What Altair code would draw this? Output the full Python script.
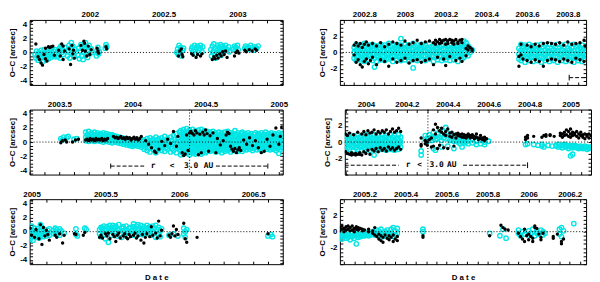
import math
import altair as alt
import pandas as pd

CYAN = "#00e5e5"

# ---------------- data: (date, O-C values ...) ----------------
L1_BLACK = [
    (2001.635, 1.2), (2001.65, -0.6), (2001.66, -1.0), (2001.67, -1.5), (2001.68, -1.8),
    (2001.69, -0.3), (2001.70, 0.6, -0.9), (2001.71, -1.2), (2001.72, 0.8), (2001.73, 0.7),
    (2001.74, 0.8), (2001.75, 0.9), (2001.76, -0.4),
    (2001.79, 0.3), (2001.80, -0.5), (2001.81, 1.2), (2001.82, 0.9, -1.0), (2001.83, 0.2),
    (2001.86, 0.5), (2001.87, -1.7), (2001.88, 1.0), (2001.885, -0.2), (2001.89, 0.3), (2001.895, -0.8),
    (2001.94, 1.0), (2001.95, 0.3), (2001.96, 1.6), (2001.965, 1.3), (2001.97, 0.2), (2001.98, -0.5),
    (2001.99, 0.9), (2002.00, -0.3), (2002.01, 0.4),
    (2002.05, 0.6), (2002.055, 0.2), (2002.06, -0.1), (2002.11, 0.8), (2002.115, 0.5),
    (2002.60, -0.5), (2002.61, 0.2), (2002.62, 0.5), (2002.625, -0.3), (2002.63, -0.6),
    (2002.69, -0.2), (2002.70, -0.4), (2002.72, -0.7), (2002.73, -0.3), (2002.75, -0.5), (2002.76, -0.2),
    (2002.83, -1.0), (2002.84, -0.6), (2002.85, -0.9), (2002.86, -0.4), (2002.87, -0.8), (2002.88, -0.2),
    (2002.89, -0.5), (2002.90, 0.1), (2002.91, -0.3), (2002.92, 0.2), (2002.93, -0.7),
    (2002.98, -0.5), (2002.99, 0.0), (2003.00, 0.2), (2003.01, -0.1),
    (2003.05, 0.3), (2003.06, 0.1), (2003.08, 0.4), (2003.10, 0.2), (2003.12, 0.5), (2003.13, 0.3),
]
L1_CYAN = [
    (2001.63, -0.3), (2001.635, -0.8), (2001.64, 0.2), (2001.645, -0.5), (2001.65, -1.1), (2001.655, 0.0),
    (2001.66, -0.4), (2001.665, -0.9), (2001.67, 0.3), (2001.675, -0.6), (2001.68, -0.2), (2001.685, -1.2),
    (2001.69, 0.4), (2001.695, -0.7), (2001.70, -0.1), (2001.705, -1.0), (2001.71, 0.1), (2001.715, -0.5),
    (2001.72, -0.9), (2001.725, 0.3), (2001.73, -0.3), (2001.735, -0.7), (2001.74, 0.5), (2001.745, 0.0),
    (2001.75, -0.4), (2001.755, 0.2), (2001.76, -0.6), (2001.765, 0.4),
    (2001.78, -0.6), (2001.785, 0.2), (2001.79, -0.2), (2001.795, 0.6), (2001.80, -0.8), (2001.805, 0.9),
    (2001.81, 0.0), (2001.815, 0.4), (2001.82, -0.3), (2001.83, 0.7),
    (2001.85, -0.5), (2001.855, 0.3), (2001.86, 1.0), (2001.865, -0.8), (2001.87, 0.6), (2001.875, 1.4),
    (2001.88, -0.2), (2001.885, 0.9), (2001.89, 0.1), (2001.895, -0.6), (2001.90, 0.4),
    (2001.92, -0.4), (2001.925, 0.6), (2001.93, -0.9), (2001.935, 0.2), (2001.94, 1.1), (2001.945, -0.5),
    (2001.95, 0.8), (2001.955, -1.0), (2001.96, 0.0), (2001.965, 0.5), (2001.97, 1.4), (2001.975, -0.3),
    (2001.98, 0.7), (2001.985, -0.7), (2001.99, 0.3), (2001.995, 1.0), (2002.00, -0.2), (2002.01, 0.5),
    (2002.015, 0.0),
    (2002.045, -0.5), (2002.05, 0.3), (2002.055, 0.7), (2002.06, -0.2), (2002.065, 0.1),
    (2002.105, 0.6), (2002.11, 1.1), (2002.115, 0.8),
    (2002.59, 0.0), (2002.595, 0.5), (2002.60, -0.3), (2002.605, 1.0), (2002.61, 0.2), (2002.615, 0.7),
    (2002.62, -0.5), (2002.63, 0.3), (2002.635, 0.6),
    (2002.69, 0.5), (2002.695, 0.8), (2002.70, 0.2), (2002.71, 1.0), (2002.715, 0.4), (2002.72, -0.2),
    (2002.725, 0.7), (2002.73, 0.9), (2002.74, 0.3), (2002.745, 0.6), (2002.75, 1.0), (2002.76, 0.1),
    (2002.765, 0.8),
    (2002.82, 0.4), (2002.825, -0.5), (2002.83, 0.9), (2002.835, 0.1), (2002.84, 1.2), (2002.845, -0.3),
    (2002.85, 0.6), (2002.855, -0.8), (2002.86, 0.3), (2002.865, 1.0), (2002.87, -0.1), (2002.875, 0.7),
    (2002.88, 0.2), (2002.885, 1.1), (2002.89, -0.4), (2002.895, 0.5), (2002.90, 0.9), (2002.905, 0.0),
    (2002.91, 0.6), (2002.915, 0.3), (2002.92, 1.0), (2002.93, 0.4), (2002.94, 0.8), (2002.945, 0.1),
    (2002.975, 0.5), (2002.98, 0.9), (2002.985, 0.3), (2002.99, 0.7), (2003.00, 1.0), (2003.005, 0.4),
    (2003.05, 0.6), (2003.055, 0.9), (2003.06, 0.4), (2003.07, 0.8), (2003.08, 0.5), (2003.09, 1.0),
    (2003.10, 0.7), (2003.11, 0.3), (2003.12, 0.8), (2003.13, 0.6), (2003.14, 0.9),
]

L2_BLACK = [
    (2003.51, -0.1), (2003.52, 0.2), (2003.54, 0.3), (2003.55, 0.0), (2003.59, 0.0), (2003.61, 0.3), (2003.63, 0.4),
    (2003.68, 0.3), (2003.69, 0.4), (2003.70, 0.2), (2003.71, 0.5), (2003.72, 0.3), (2003.73, 0.4),
    (2003.74, 0.2), (2003.75, 0.5), (2003.76, 0.3), (2003.77, 0.4), (2003.78, 0.3), (2003.79, 0.5),
    (2003.80, 0.2), (2003.81, 0.4), (2003.82, 0.3), (2003.83, 0.5),
    (2003.87, 0.8), (2003.88, 0.6), (2003.89, 0.7), (2003.90, 0.5), (2003.91, 0.6), (2003.92, 0.8),
    (2003.93, 0.5), (2003.94, 0.6), (2003.95, 0.4), (2003.96, 0.7), (2003.97, 0.5), (2003.98, 0.6),
    (2003.99, 0.3), (2004.00, 0.5), (2004.01, 0.7), (2004.02, 0.4), (2004.03, 0.6), (2004.04, 0.3),
    (2004.05, 0.5), (2004.06, 0.8),
    (2004.09, 0.2), (2004.11, -0.3), (2004.13, -0.8), (2004.15, -1.3), (2004.16, -1.5), (2004.18, -1.0),
    (2004.20, 0.1), (2004.22, -0.5), (2004.24, 0.4), (2004.26, -0.2), (2004.28, 1.5), (2004.30, -0.6),
    (2004.31, 0.8),
    (2004.34, -1.5), (2004.35, -1.9), (2004.36, -1.7), (2004.37, 1.0), (2004.38, -1.2), (2004.39, 1.3),
    (2004.40, 1.5), (2004.41, 1.2), (2004.42, 1.0), (2004.43, 1.6), (2004.44, 1.3), (2004.45, -1.8),
    (2004.46, 1.1), (2004.47, -1.5), (2004.48, 1.4), (2004.49, 1.0), (2004.50, 1.7), (2004.51, 1.2),
    (2004.52, -1.3), (2004.53, 0.9), (2004.55, 1.3), (2004.57, -1.5), (2004.58, 0.5), (2004.60, -0.4),
    (2004.62, 0.2), (2004.64, 1.0), (2004.65, 1.4), (2004.66, 1.2), (2004.67, -0.6), (2004.68, -1.0),
    (2004.69, -1.3), (2004.70, -0.9), (2004.71, -1.5), (2004.72, -1.1), (2004.73, -0.8), (2004.74, -1.2),
    (2004.76, 0.3), (2004.78, -0.3), (2004.80, 0.6), (2004.82, -0.5), (2004.84, 0.2), (2004.86, -0.8),
    (2004.88, -1.5), (2004.90, -1.3), (2004.92, 0.4), (2004.94, -0.6), (2004.96, 1.0), (2004.98, 2.0),
    (2005.00, -0.3), (2005.01, 0.8), (2005.02, 2.1),
]
L2_CYAN = [
    (2003.51, 0.5), (2003.52, 0.3), (2003.53, 0.7), (2003.55, 0.6), (2003.56, 0.8), (2003.60, 0.4), (2003.62, 0.5),
    (2003.68, 1.4, 0.7, 0.2), (2003.69, 1.0, 0.4), (2003.70, 1.5, 0.8, 0.1), (2003.71, 1.1, 0.5),
    (2003.72, 1.3, 0.7, 0.2), (2003.73, 0.9, 0.3), (2003.74, 1.4, 0.6, 0.1), (2003.75, 1.0, 0.4),
    (2003.76, 1.3, 0.8, 0.2), (2003.77, 1.1, 0.5), (2003.78, 1.2, 0.7, 0.1), (2003.79, 0.9, 0.3),
    (2003.80, 1.3, 0.6, 0.0), (2003.81, 1.0, 0.4), (2003.82, 1.2, 0.7, 0.1), (2003.83, 0.9, 0.3),
    (2003.84, 1.1, 0.5, 0.0), (2003.85, 0.9, 0.2), (2003.86, 1.0, 0.4, -0.1),
    (2003.87, 0.9, 0.3), (2003.88, 0.6, 0.0), (2003.89, 0.8, 0.2), (2003.90, 0.5, -0.1), (2003.91, 0.7, 0.1),
    (2003.92, 0.4, -0.2), (2003.93, 0.6, 0.0), (2003.94, 0.3, -0.3), (2003.95, 0.5, -0.1), (2003.96, 0.2, -0.4),
    (2003.97, 0.4, -0.2), (2003.98, 0.1, -0.5), (2003.99, 0.3, -0.3), (2004.00, 0.0, -0.6), (2004.01, 0.2, -0.4),
    (2004.02, -0.1, -0.5), (2004.03, 0.1, -0.3), (2004.04, -0.2, -0.6), (2004.05, 0.0, -0.4), (2004.06, -0.3, -0.7),
    (2004.07, 0.1, -0.5),
    (2004.08, 0.3, -0.4, -1.0), (2004.09, 0.0, -0.7), (2004.10, 0.5, -0.3, -1.2), (2004.11, 0.1, -0.8),
    (2004.12, 0.6, -0.2, -1.4), (2004.13, 0.2, -0.6), (2004.14, 0.4, -0.4, -1.1), (2004.15, 0.0, -0.8),
    (2004.16, 0.7, -0.1, -1.5), (2004.17, 0.3, -0.6), (2004.18, 0.5, -0.3, -1.0), (2004.19, 0.1, -0.7),
    (2004.20, 0.6, -0.2, -1.2), (2004.21, 0.2, -0.5), (2004.22, 0.8, -0.4, -1.3), (2004.23, 0.3, -0.8),
    (2004.24, 0.5, -0.1, -1.0), (2004.25, 0.0, -0.6), (2004.26, 0.7, -0.3, -1.4), (2004.27, 0.2, -0.9),
    (2004.28, 0.9, -0.2, -1.2), (2004.29, 0.4, -0.6), (2004.30, 1.2, 0.0, -1.5), (2004.31, 0.6, -0.7),
    (2004.32, 1.4, 0.1, -1.1),
    (2004.33, 1.6, 0.9, 0.2, -0.5, -1.2, -1.8), (2004.34, 1.2, 0.5, -0.2, -0.9, -1.5),
    (2004.35, 1.8, 1.0, 0.3, -0.4, -1.1, -1.7), (2004.36, 1.4, 0.6, -0.1, -0.8, -1.5),
    (2004.37, 1.9, 1.1, 0.4, -0.3, -1.0, -1.6), (2004.38, 1.3, 0.6, -0.1, -0.8, -1.4),
    (2004.39, 1.7, 1.0, 0.3, -0.4, -1.1, -1.8), (2004.40, 1.4, 0.7, 0.0, -0.7, -1.3),
    (2004.41, 1.8, 1.1, 0.4, -0.3, -1.0, -1.6), (2004.42, 1.3, 0.6, -0.1, -0.8, -1.4),
    (2004.43, 1.6, 0.9, 0.2, -0.5, -1.2, -1.7), (2004.44, 1.2, 0.5, -0.2, -0.9, -1.5),
    (2004.45, 1.7, 1.0, 0.3, -0.4, -1.1), (2004.46, 1.3, 0.6, -0.1, -0.8, -1.5),
    (2004.47, 1.8, 1.0, 0.3, -0.4, -1.1, -1.7), (2004.48, 1.2, 0.5, -0.2, -0.9, -1.4),
    (2004.49, 1.6, 0.9, 0.2, -0.5, -1.2), (2004.50, 1.3, 0.6, -0.1, -0.8, -1.5),
    (2004.51, 1.5, 0.8, 0.1, -0.6, -1.3), (2004.52, 1.1, 0.4, -0.3, -1.0),
    (2004.53, 1.4, 0.7, 0.0, -0.7, -1.3), (2004.54, 1.0, 0.3, -0.4, -1.1),
    (2004.55, 1.5, 0.8, 0.1, -0.6, -1.2), (2004.56, 1.1, 0.4, -0.3, -0.9),
    (2004.57, 1.3, 0.6, -0.1, -0.8, -1.4), (2004.58, 0.9, 0.2, -0.5, -1.1),
    (2004.59, 1.4, 0.7, 0.0, -0.7, -1.3), (2004.60, 1.0, 0.3, -0.4, -1.0),
    (2004.61, 1.3, 0.6, -0.1, -0.8, -1.5), (2004.62, 0.9, 0.2, -0.5, -1.1),
    (2004.63, 1.4, 0.7, 0.0, -0.7, -1.3), (2004.64, 1.0, 0.3, -0.4, -1.0),
    (2004.65, 1.5, 0.8, 0.1, -0.6, -1.2), (2004.66, 1.1, 0.4, -0.3, -0.9),
    (2004.67, 1.3, 0.6, -0.1, -0.8, -1.4), (2004.68, 0.9, 0.2, -0.5, -1.1),
    (2004.69, 1.2, 0.5, -0.2, -0.9), (2004.70, 1.6, 0.8, 0.1, -0.6, -1.2),
    (2004.71, 1.0, 0.3, -0.4, -1.0), (2004.72, 1.3, 0.6, -0.1, -0.8, -1.3),
    (2004.73, 0.9, 0.2, -0.5, -1.1), (2004.74, 1.2, 0.5, -0.2, -0.9),
    (2004.75, 1.4, 0.7, 0.0, -0.7, -1.3), (2004.76, 1.0, 0.3, -0.4, -1.0),
    (2004.77, 1.2, 0.5, -0.2, -0.8), (2004.78, 0.9, 0.2, -0.5, -1.1),
    (2004.79, 1.3, 0.6, -0.1, -0.7), (2004.80, 1.0, 0.3, -0.4, -1.0),
    (2004.81, 1.2, 0.5, -0.2, -0.8), (2004.82, 0.8, 0.1, -0.6, -1.2),
    (2004.83, 1.1, 0.4, -0.3, -0.9), (2004.84, 1.3, 0.6, -0.1, -0.7),
    (2004.85, 0.9, 0.2, -0.5, -1.1), (2004.86, 1.2, 0.5, -0.2, -0.8),
    (2004.87, 1.0, 0.3, -0.4, -1.0), (2004.88, 1.3, 0.6, -0.1, -0.7),
    (2004.89, 0.9, 0.2, -0.5, -1.2), (2004.90, 1.1, 0.4, -0.3, -0.9),
    (2004.91, 1.4, 0.7, 0.0, -0.6), (2004.92, 1.0, 0.3, -0.4, -1.0),
    (2004.93, 1.2, 0.5, -0.2, -0.8), (2004.94, 0.9, 0.2, -0.5, -1.1),
    (2004.95, 1.3, 0.6, -0.1, -0.7), (2004.96, 1.0, 0.3, -0.4, -1.0),
    (2004.97, 1.2, 0.5, -0.2, -0.9), (2004.98, 0.8, 0.1, -0.6, -1.2),
    (2004.99, 1.1, 0.4, -0.3, -0.9), (2005.00, 1.3, 0.6, -0.1, -0.8, -1.6),
    (2005.01, 0.9, 0.2, -0.5, -1.1), (2005.02, 1.2, 0.5, -0.2, -0.8), (2005.03, 1.0, 0.3, -0.4),
]

L3_BLACK = [
    (2004.99, 0.5), (2005.00, -0.5), (2005.02, -0.8), (2005.03, 0.3), (2005.05, -1.0), (2005.06, 1.0),
    (2005.07, -1.8), (2005.08, 0.6), (2005.09, -0.6), (2005.10, 0.2), (2005.11, -0.4), (2005.12, -1.2),
    (2005.16, -0.5), (2005.17, -0.8), (2005.19, -0.3), (2005.21, -1.6), (2005.22, -0.5),
    (2005.29, -0.3), (2005.30, -0.4), (2005.35, -0.5), (2005.36, -0.1),
    (2005.46, -0.8), (2005.47, -0.5), (2005.48, -0.9), (2005.50, -0.3), (2005.51, -0.6), (2005.52, -0.2),
    (2005.53, -1.0), (2005.55, -0.4), (2005.56, -0.7), (2005.57, -1.4), (2005.58, -0.5), (2005.59, -0.2),
    (2005.60, -0.9), (2005.62, -0.6), (2005.63, -0.3), (2005.64, -0.8), (2005.65, -1.0), (2005.66, -0.4),
    (2005.67, -0.7), (2005.69, -0.5), (2005.70, -0.2), (2005.71, -0.9), (2005.72, -0.6), (2005.74, -1.2),
    (2005.75, -0.4), (2005.76, -1.6), (2005.77, -0.8), (2005.78, -0.3), (2005.80, -0.7), (2005.81, 0.7),
    (2005.82, -0.5), (2005.84, -0.2), (2005.85, -0.9), (2005.86, 1.5), (2005.87, -0.6), (2005.88, 0.2),
    (2005.93, -0.5), (2005.94, -0.8), (2005.95, -0.3), (2005.96, 0.8), (2005.97, -0.6), (2005.98, 0.3),
    (2005.99, -0.4), (2006.03, 1.2), (2006.04, -1.0), (2006.05, -1.5), (2006.12, -0.8), (2006.60, -0.3),
]
L3_CYAN = [
    (2004.99, 0.3, -0.4, -1.1), (2005.00, 0.8, -0.2, -0.8), (2005.01, 0.1, -0.6, -1.2), (2005.02, 0.5, -0.3),
    (2005.03, -0.8, 0.0), (2005.04, 0.4, -0.5), (2005.05, -0.2, -0.9), (2005.06, 1.0, 0.2, -0.6),
    (2005.07, -0.3, 0.6), (2005.08, 0.0, -0.7), (2005.09, 0.3, -0.4), (2005.10, -0.1, -0.6),
    (2005.11, 0.2, -0.3), (2005.12, -0.5, 0.4),
    (2005.15, 0.2, -0.3), (2005.16, 0.5, -0.1), (2005.17, -0.4, 0.3), (2005.18, 0.0), (2005.19, 0.4, -0.5),
    (2005.20, 0.1), (2005.22, -0.2),
    (2005.30, 0.4, -0.4), (2005.31, -0.6), (2005.36, 0.5), (2005.37, 0.3),
    (2005.46, 0.3, -0.3), (2005.47, 0.6, -0.7), (2005.48, 0.0, 0.5), (2005.49, -0.4, 0.8), (2005.50, 0.2, -1.0),
    (2005.51, 0.7, -0.2), (2005.52, -1.5, 0.4), (2005.53, 0.1, 0.9), (2005.54, -0.5, 0.5), (2005.55, 0.3, 0.9),
    (2005.56, -0.2, 0.6), (2005.57, 0.8, 0.0), (2005.58, -0.6, 0.4), (2005.59, 0.2, 1.0), (2005.60, -0.3),
    (2005.61, 0.5, -0.8), (2005.62, 0.1, 0.7), (2005.63, -0.4), (2005.64, 0.3, 0.8), (2005.65, 0.0, -0.7),
    (2005.66, 0.5), (2005.67, -0.2, 0.6), (2005.68, 0.2, -0.5), (2005.69, 0.7, 1.1), (2005.70, -0.1, 0.4),
    (2005.71, 0.8, -0.6), (2005.72, 0.2, 1.0), (2005.73, -0.3, 0.5), (2005.74, 0.0, 0.9), (2005.75, 0.4, -0.4),
    (2005.76, 0.7), (2005.77, -0.2, 0.3),
    (2005.78, 0.5, 0.9), (2005.79, -0.3, 0.2), (2005.80, 0.7), (2005.81, -0.5, 0.3), (2005.82, 0.8, 0.0),
    (2005.83, -0.2, 0.5), (2005.84, 0.9, -0.8), (2005.85, 0.3), (2005.86, -0.4, 0.6), (2005.87, 0.1, -0.7),
    (2005.88, 0.4),
    (2005.93, -0.5), (2005.96, -0.3), (2005.99, -0.6), (2006.03, 0.5, -0.3), (2006.04, 0.0, -0.8), (2006.05, 0.3),
    (2006.60, -0.6), (2006.62, -0.4), (2006.63, -0.7),
]

R1_BLACK = [
    (2002.75, -0.3, 0.9), (2002.76, -1.2, 1.2), (2002.77, 0.8, -0.9), (2002.78, -1.5, 1.1), (2002.79, -1.8, 0.6),
    (2002.80, 1.0, -1.1), (2002.81, -0.8, 1.3), (2002.82, 0.9, -1.4), (2002.83, -1.0), (2002.84, 1.1, -0.6),
    (2002.86, -1.5, 0.8), (2002.88, 1.2, -0.9), (2002.90, -1.1, 0.7), (2002.92, 1.0, -1.7), (2002.94, -0.8, 1.3),
    (2002.96, 1.1, -1.2), (2002.98, -1.0, 0.9), (2003.00, 1.4, -0.7), (2003.02, -1.3, 1.0), (2003.04, 1.2, -1.0),
    (2003.06, -0.9, 1.5), (2003.08, 1.1, -1.2), (2003.10, -1.0, 1.3), (2003.12, 1.4, -0.8), (2003.14, -1.5, 1.2),
    (2003.15, 1.5, 1.0), (2003.16, 1.3, -0.6), (2003.17, 1.6, 1.1), (2003.18, 1.2, 1.4), (2003.19, 1.5, -0.8),
    (2003.20, 1.0, 1.6, -1.6), (2003.21, 1.4, 1.1), (2003.22, 1.6, -0.5), (2003.23, 1.2, 1.5), (2003.24, 1.4, 1.0),
    (2003.25, 1.6, -1.0), (2003.26, 1.1, 1.3), (2003.27, 1.5, -0.7), (2003.28, 1.2, 1.6, -1.1),
    (2003.30, 0.5, -0.4), (2003.31, 0.8, 0.3), (2003.32, 0.6), (2003.33, 0.4, 0.2),
    (2003.56, -1.7, -0.5), (2003.57, 1.0, -0.3), (2003.58, -0.8), (2003.60, 0.9, -1.0), (2003.62, -1.2, 0.7),
    (2003.64, 1.0, -0.9), (2003.66, -1.1, 0.8), (2003.68, 1.1, -1.7), (2003.70, -1.0, 1.2), (2003.72, 1.1, -0.8),
    (2003.74, -0.9, 1.0), (2003.76, 1.2, -1.1), (2003.78, -0.8, 0.9), (2003.80, 1.3, -1.0), (2003.82, -1.2, 1.0),
    (2003.84, 1.1, -0.7), (2003.86, -0.9, 1.2), (2003.88, 1.5, -1.1), (2003.885, 0.8),
]
R1_CYAN = [
    (2002.75, 0.6, 0.0, -0.7), (2002.76, 1.0, 0.3, -0.4, -1.0), (2002.77, 0.7, 0.1, -0.5),
    (2002.78, 0.9, 0.4, -0.2, -0.9), (2002.79, 0.5, -0.1, -0.7), (2002.80, 1.1, 0.3, -0.4, -1.1),
    (2002.81, 0.6, 0.0, -0.6), (2002.82, 0.9, 0.4, -0.3, -0.9), (2002.83, 0.7, 0.1, -0.5),
    (2002.84, 1.0, 0.3, -0.2, -1.0), (2002.85, 0.5, -0.1, -0.7, -1.8), (2002.86, 0.8, 0.2, -0.4, -1.1),
    (2002.87, 0.6, 0.0, -0.6), (2002.88, 1.0, 0.4, -0.3, -0.9), (2002.89, 0.7, 0.1, -0.5),
    (2002.90, 0.9, 0.2, -0.4, -1.0), (2002.91, 0.5, -0.1, -0.7), (2002.92, 1.1, 0.4, -0.2, -0.8),
    (2002.93, 0.7, 0.0, -0.6), (2002.94, 0.9, 0.3, -0.4, -1.1), (2002.95, 0.6, 0.1, -0.5),
    (2002.96, 1.0, 0.4, -0.2, -0.9), (2002.97, 0.7, 0.0, -0.6), (2002.98, 1.7, 0.9, 0.3, -0.4, -1.0),
    (2002.99, 0.6, 0.1, -0.5), (2003.00, 1.0, 0.4, -0.3, -0.9), (2003.01, 0.7, 0.0, -0.6),
    (2003.02, 0.9, 0.3, -0.4, -1.1), (2003.03, 0.5, -0.1, -0.7), (2003.04, 1.1, 0.4, -0.2, -0.9, -1.9),
    (2003.05, 0.7, 0.1, -0.5), (2003.06, 0.9, 0.3, -0.4, -1.0), (2003.07, 0.6, 0.0, -0.6),
    (2003.08, 1.0, 0.4, -0.3, -0.9), (2003.09, 0.7, 0.1, -0.5), (2003.10, 0.9, 0.2, -0.4, -1.0),
    (2003.11, 0.6, 0.0, -0.7), (2003.12, 1.1, 0.4, -0.2, -0.8), (2003.13, 0.7, 0.1, -0.5),
    (2003.14, 0.9, 0.3, -0.4, -1.1), (2003.15, 0.6, 0.0, -0.6), (2003.16, 1.0, 0.4, -0.2, -0.9),
    (2003.17, 0.7, 0.1, -0.5), (2003.18, 0.9, 0.3, -0.4, -1.0), (2003.19, 0.5, -0.1, -0.7),
    (2003.20, 1.0, 0.4, -0.3, -0.9), (2003.21, 0.7, 0.0, -0.6), (2003.22, 0.9, 0.3, -0.4, -1.0),
    (2003.23, 0.6, 0.1, -0.5), (2003.24, 1.0, 0.4, -0.2, -0.9), (2003.25, 0.7, 0.0, -0.6),
    (2003.26, 0.9, 0.3, -0.4, -1.1), (2003.27, 0.6, 0.1, -0.5), (2003.28, 1.0, 0.4, -0.2, -0.8),
    (2003.29, 1.4, 0.7, 0.0, -0.6), (2003.30, 1.2, 0.5, -0.2), (2003.31, 0.8, 0.2, -0.4),
    (2003.32, 0.5, 0.0), (2003.33, 0.3),
    (2003.56, 0.5, -0.2, -0.8), (2003.57, 1.0, 0.3, -0.4, -1.0), (2003.58, 0.7, 0.0, -0.6),
    (2003.59, 0.9, 0.2, -0.5, -1.2), (2003.60, 0.6, -0.1, -0.7), (2003.61, 1.0, 0.3, -0.3, -1.0),
    (2003.62, 0.7, 0.0, -0.6), (2003.63, 0.8, 0.2, -0.5, -1.1), (2003.64, 0.5, -0.1, -0.7),
    (2003.65, 0.9, 0.3, -0.4, -1.0), (2003.66, 0.6, 0.0, -0.6), (2003.67, 1.0, 0.2, -0.5, -1.2),
    (2003.68, 0.7, -0.1, -0.7), (2003.69, 0.9, 0.3, -0.3, -1.0), (2003.70, 0.6, 0.0, -0.6),
    (2003.71, 1.0, 0.2, -0.5, -1.1), (2003.72, 0.5, -0.1, -0.8), (2003.73, 0.9, 0.3, -0.4, -1.0),
    (2003.74, 0.7, 0.0, -0.6), (2003.75, 1.0, 0.2, -0.5, -1.2), (2003.76, 0.6, -0.1, -0.7),
    (2003.77, 0.9, 0.3, -0.3, -1.0), (2003.78, 0.7, 0.0, -0.6), (2003.79, 1.0, 0.2, -0.5, -1.1),
    (2003.80, 0.5, -0.1, -0.8), (2003.81, 0.9, 0.3, -0.4, -1.0), (2003.82, 0.6, 0.0, -0.6),
    (2003.83, 1.0, 0.2, -0.5, -1.2), (2003.84, 0.7, -0.1, -0.7), (2003.85, 0.8, 0.3, -0.3, -1.0),
    (2003.86, 0.6, 0.0, -0.6), (2003.87, 0.9, 0.2, -0.5, -1.1), (2003.88, 0.5, -0.2, -0.8),
    (2003.89, 0.8, 0.1, -0.5),
]

R2_BLACK = [
    (2003.90, -1.2, 1.0), (2003.91, -1.4, 0.8), (2003.92, -1.5, 1.1), (2003.93, -1.6, -1.3), (2003.94, -1.5, 0.9),
    (2003.95, -1.4, -1.6), (2003.96, -1.5, 1.2), (2003.97, -1.3, -1.5), (2003.98, -1.6, 1.0), (2003.99, -1.2, 1.3),
    (2004.00, -1.4, 0.9), (2004.01, -1.0, 1.4), (2004.02, -1.5, 1.1), (2004.03, -0.9, 1.2), (2004.04, -1.1, 1.5),
    (2004.05, -0.8, 1.0), (2004.06, -1.2, 1.3), (2004.07, -0.7, 1.1), (2004.08, -1.0, 1.4), (2004.09, -0.8, 1.2),
    (2004.10, -1.1, 1.5), (2004.11, -0.6, 1.0), (2004.12, -0.9, 1.3), (2004.13, -0.7, 1.6), (2004.14, -1.0, 1.2),
    (2004.15, -0.8, 1.4), (2004.16, -0.6, 1.7), (2004.17, -0.9, 1.3),
    (2004.27, 0.5, -0.3, -0.5), (2004.29, 0.2, -0.2), (2004.30, 0.0, -0.4), (2004.31, 0.3), (2004.32, 0.5, -0.6),
    (2004.33, 1.5, -0.5), (2004.34, 1.0, 2.2), (2004.35, 1.8, -0.8), (2004.36, 1.4, -0.4), (2004.37, 1.7, 1.2),
    (2004.38, 1.0, -0.7), (2004.39, 1.3, 0.8), (2004.40, 1.6, -0.8), (2004.41, 1.1, 0.7), (2004.42, 1.2, 0.6),
    (2004.43, 0.9, -0.5), (2004.44, 1.0, 0.5), (2004.45, 0.8, 1.1), (2004.46, 0.7, 0.9), (2004.47, 1.0, 0.6),
    (2004.48, 0.6, 0.9), (2004.49, 0.8, 0.5), (2004.50, 0.7, 1.0), (2004.51, 0.5, 0.8), (2004.52, 0.9, 0.6),
    (2004.53, 0.4, 0.7), (2004.54, 0.6, 1.0), (2004.55, 0.3, 0.5), (2004.56, 0.8, 0.4), (2004.57, 0.5, 0.3),
    (2004.58, 0.6, 0.2), (2004.59, 0.4),
    (2004.78, 0.3, 0.6), (2004.79, 0.8, 0.5), (2004.82, 0.7), (2004.86, 0.6), (2004.87, 0.8), (2004.88, 0.9, 0.7),
    (2004.90, 0.8, 0.9), (2004.92, 0.7), (2004.95, 0.8, 1.1), (2004.96, 1.0, 0.6), (2004.97, 1.2, 0.8),
    (2004.98, 0.9, 1.5), (2004.99, 1.3, 0.7), (2005.00, 1.0, 0.6, 1.6), (2005.01, 1.2, 0.8), (2005.02, 0.9, 1.1),
    (2005.03, 0.7, 1.3), (2005.04, 1.0, 0.5), (2005.05, 0.8, 1.2), (2005.06, 0.6, 0.9), (2005.07, 1.0, 0.4),
    (2005.08, 0.7, 0.9), (2005.09, 0.5, 1.0), (2005.10, 0.8),
]
R2_CYAN = [
    (2003.90, 0.8, 0.2, -0.4, -1.0), (2003.91, 0.5, -0.1, -0.7), (2003.92, 0.9, 0.3, -0.3, -0.9),
    (2003.93, 0.6, 0.0, -0.6), (2003.94, 0.8, 0.2, -0.4, -1.0), (2003.95, 0.5, -0.1, -0.7),
    (2003.96, 0.9, 0.3, -0.3, -0.9), (2003.97, 0.6, 0.0, -0.6), (2003.98, 0.8, 0.2, -0.4, -1.0),
    (2003.99, 0.5, -0.1, -0.7), (2004.00, 0.9, 0.3, -0.3, -0.9), (2004.01, 0.6, 0.0, -0.6),
    (2004.02, 0.8, 0.2, -0.4, -1.0), (2004.03, 0.5, -0.1, -0.7), (2004.04, 0.9, 0.3, -0.3, -0.9, -1.6),
    (2004.05, 0.6, 0.0, -0.6), (2004.06, 0.8, 0.2, -0.4, -1.0), (2004.07, 0.5, -0.1, -0.7),
    (2004.08, 0.9, 0.3, -0.3, -0.9), (2004.09, 0.6, 0.0, -0.6), (2004.10, 0.8, 0.2, -0.4, -1.0),
    (2004.11, 0.5, -0.1, -0.7), (2004.12, 0.9, 0.3, -0.3, -0.9), (2004.13, 0.6, 0.0, -0.6),
    (2004.14, 0.8, 0.2, -0.4, -1.0), (2004.15, 0.5, -0.1, -0.7), (2004.16, 0.9, 0.3, -0.3, -0.9),
    (2004.17, 0.6, 0.0, -0.6),
    (2004.27, -1.1, -1.6),
    (2004.29, 0.3, 0.8), (2004.30, 0.5, 0.1), (2004.31, 0.9, 0.4), (2004.32, 0.2, 0.6), (2004.33, 1.2, 0.5, -0.8),
    (2004.34, 0.7, 0.3, -1.0), (2004.35, 1.0, 0.4), (2004.36, 1.5, 0.6), (2004.37, 0.9, 0.2, -0.6),
    (2004.38, 1.3, 0.5), (2004.39, 1.8, 0.8), (2004.40, 1.1, 0.4, -0.5), (2004.41, 0.8, 0.2), (2004.42, 1.0, 0.3),
    (2004.43, 0.6, 0.1, -0.8), (2004.44, 0.7, 0.2), (2004.45, 0.5, 0.0), (2004.46, 0.4, -0.2),
    (2004.47, 0.5, 0.1, -0.6), (2004.48, 0.3, -0.1), (2004.49, 0.4, 0.0), (2004.50, 0.2, -0.2),
    (2004.52, 0.3, -0.1), (2004.54, 0.1, -0.3), (2004.56, 0.2, -0.2), (2004.58, 0.0, -0.3), (2004.60, 0.1),
    (2004.78, -0.3), (2004.79, -0.2), (2004.82, -0.3), (2004.84, -0.4), (2004.86, -0.3, -0.5), (2004.87, -0.6),
    (2004.89, -0.4), (2004.91, -0.5),
    (2004.93, -0.4, -0.5), (2004.94, -0.3, -0.6), (2004.95, -0.5), (2004.96, -0.4, -0.7), (2004.97, -0.5, -0.3),
    (2004.98, -0.6, -0.4), (2004.99, -0.5, -0.8), (2005.00, -0.4, -0.6, -1.7), (2005.01, -0.7, -0.5, -1.5),
    (2005.02, -0.6, -0.4), (2005.03, -0.7, -0.5), (2005.04, -0.6, -0.8), (2005.05, -0.5, -0.7),
    (2005.06, -0.8, -0.6), (2005.07, -0.7, -0.5), (2005.08, -0.9, -0.6), (2005.09, -0.7, -0.8), (2005.10, -0.6),
]

R3_BLACK = [
    (2005.08, 0.5, 0.1), (2005.09, 0.7, 0.3), (2005.10, 0.4, 0.0), (2005.11, 0.6, 0.2), (2005.12, 0.3, 0.7),
    (2005.13, 0.5, 0.1), (2005.14, 0.7, 0.2), (2005.15, 0.4, 0.0), (2005.16, 0.6, 0.3), (2005.17, 0.2, 0.5),
    (2005.18, 0.4), (2005.19, 0.1, 0.3), (2005.20, 0.2), (2005.22, 0.0, 0.3), (2005.24, -0.2, 0.1),
    (2005.25, 0.5, -0.4), (2005.26, -0.6), (2005.27, -0.9, -0.3), (2005.28, -1.1, -0.5), (2005.29, -1.3, -0.7),
    (2005.30, -0.4), (2005.31, -0.8), (2005.32, -1.0, -0.5), (2005.33, -0.7), (2005.34, -1.2, -0.4),
    (2005.35, -0.9), (2005.36, -0.6, -1.1),
    (2005.485, -0.5, -0.7), (2005.81, -0.5), (2005.865, 0.8), (2005.875, 0.5), (2005.885, 0.3), (2005.90, 0.2),
    (2005.95, -0.2), (2005.96, -0.6), (2005.97, -0.9), (2005.98, -1.2, 0.3), (2005.99, -0.5), (2006.00, -0.3, -1.0),
    (2006.01, -0.6), (2006.02, -0.8, -1.2), (2006.03, 0.5, 0.7), (2006.04, 0.4), (2006.05, -0.3),
    (2006.06, -0.7, -1.0), (2006.07, -0.2),
    (2006.12, -0.8, -0.6), (2006.14, -0.3), (2006.16, -1.2, -1.5), (2006.17, -0.9),
]
R3_CYAN = [
    (2005.08, -0.3, -0.7), (2005.09, -0.5, -0.9), (2005.10, -0.2, -0.6), (2005.11, -0.4, -0.8),
    (2005.12, -0.3, -0.7), (2005.13, -0.5, -1.0), (2005.14, -0.2, -0.6), (2005.15, -0.4, -0.8),
    (2005.16, -0.5, -1.5, -0.2), (2005.17, -0.3, -0.7), (2005.18, -0.4, -0.6), (2005.19, -0.2, -0.5),
    (2005.20, -0.5, -0.3), (2005.21, -0.4, -0.1), (2005.22, -0.3, -0.5), (2005.23, -0.2, -0.4), (2005.24, -0.3, 0.0),
    (2005.25, -0.4, -0.1), (2005.26, 0.2, -0.3), (2005.27, -0.5, 0.1), (2005.28, 0.3, -0.2), (2005.29, -0.4, -0.6),
    (2005.30, 0.0), (2005.31, -0.3, 0.2), (2005.32, -0.5, -0.1), (2005.33, 0.3, -0.3), (2005.34, 0.5, -0.6),
    (2005.35, 0.1, -0.4), (2005.36, 0.4, -0.2),
    (2005.485, 0.3, 0.0), (2005.81, -0.2), (2005.86, -0.5), (2005.875, 0.3), (2005.89, -0.8),
    (2005.95, -0.2, 0.2), (2005.96, -0.5), (2005.97, 0.0), (2005.98, -0.3), (2006.00, 0.1, -0.4), (2006.01, -0.2),
    (2006.02, 0.3), (2006.03, -0.5), (2006.04, 0.0, -0.2), (2006.05, -0.3), (2006.06, 0.2), (2006.07, -0.4, 0.0),
    (2006.08, -0.2),
    (2006.15, -0.3, 0.3), (2006.16, 0.5, -0.6), (2006.17, 0.1), (2006.22, 1.0),
]

# x-ranges of the panels (years)
L1_RANGE = [2001.593, 2003.307]
L2_RANGE = [2003.297, 2005.027]
L3_RANGE = [2004.987, 2006.700]
R1_RANGE = [2002.680, 2003.890]
R2_RANGE = [2003.897, 2005.100]
R3_RANGE = [2005.080, 2006.280]
LEFT_OC_RANGE = [-4.6, 4.6]
RIGHT_OC_RANGE = [-4.0, 4.0]

# perihelion-distance marks: vertical dotted line dates and "r < 3.0 AU" brackets
L2_VLINE = 2004.39
R2_VLINE = 2004.303
L2_DASHES = [(2003.851, 2004.09), (2004.57, 2004.925)]
L2_CAPS = [2003.851, 2004.925]
L2_WORDS = [(2004.14, "r"), (2004.27, "<"), (2004.40, "3.0"), (2004.52, "AU")]
L2_BRACKET_OC = -3.4
R2_DASHES = [(2003.897, 2004.16), (2004.475, 2004.79)]
R2_CAPS = [2004.79]
R2_WORDS = [(2004.206, "r"), (2004.262, "<"), (2004.346, "3.0"), (2004.42, "AU")]
R2_BRACKET_OC = -2.85
R1_DASHES = [(2003.807, 2003.89)]
R1_CAPS = [2003.807]
R1_BRACKET_OC = -3.1

FONT = "Liberation Sans"


def expand(cols):
    d, v = [], []
    for c in cols:
        for val in c[1:]:
            d.append(c[0])
            v.append(val)
    return pd.DataFrame({"date": d, "oc": v})


def ticks(lo, hi, step):
    k0 = math.ceil(lo / step - 1e-9)
    k1 = math.floor(hi / step + 1e-9)
    return [round(k * step, 4) for k in range(k0, k1 + 1)]


def panel(black, cyan, xdom, ydom, major_mult, minor_step, ylab_max, width, height,
          date_title=False, vline=None, bracket=None):
    xs = alt.Scale(domain=xdom, nice=False, zero=False)
    ys = alt.Scale(domain=ydom, nice=False, zero=False)
    xvals = ticks(xdom[0], xdom[1], minor_step)
    yvals = ticks(ydom[0], ydom[1], 0.5)
    xlab = (f"abs(datum.value*{major_mult} - round(datum.value*{major_mult})) < 0.001"
            " ? toString(round(datum.value*10)/10) : ''")
    ylab = (f"(abs(datum.value/2 - round(datum.value/2)) < 0.001 && abs(datum.value) <= {ylab_max})"
            " ? toString(datum.value) : ''")
    top_axis = alt.Axis(orient="top", values=xvals, labelExpr=xlab, tickSize=3, offset=-3,
                        domain=False, grid=False, title=None, labelOverlap=False,
                        labelFlush=False, labelPadding=1)
    left_axis = alt.Axis(orient="left", values=yvals, labelExpr=ylab, tickSize=3, offset=-3,
                         domain=False, grid=False, title="O−C [arcsec]", labelOverlap=False,
                         labelFlush=False, labelPadding=3, titlePadding=3)
    if date_title:
        bottom_axis = alt.Axis(orient="bottom", values=xvals, labels=False, tickSize=3, offset=-3,
                               domain=False, grid=False, title="D a t e", titlePadding=9)
    else:
        bottom_axis = alt.Axis(orient="bottom", values=xvals, labels=False, tickSize=3, offset=-3,
                               domain=False, grid=False, title=None)
    right_axis = alt.Axis(orient="right", values=yvals, labels=False, tickSize=3, offset=-3,
                          domain=False, grid=False, title=None)

    cy = alt.Chart(expand(cyan)).mark_point(
        shape="circle", filled=False, size=20, strokeWidth=1.4, color=CYAN, opacity=1, clip=True
    ).encode(
        x=alt.X("date:Q", scale=xs, axis=top_axis),
        y=alt.Y("oc:Q", scale=ys, axis=left_axis),
    )
    bk = alt.Chart(expand(black)).mark_circle(size=12, color="black", opacity=1, clip=True).encode(
        x=alt.X("date:Q", scale=xs, axis=bottom_axis),
        y=alt.Y("oc:Q", scale=ys, axis=right_axis),
    )
    zero = alt.Chart(pd.DataFrame({"oc": [0.0]})).mark_rule(
        color="black", strokeDash=[1, 2], strokeWidth=1
    ).encode(y=alt.Y("oc:Q", scale=ys, axis=None))
    layers = [cy, bk, zero]
    if vline is not None:
        layers.append(
            alt.Chart(pd.DataFrame({"date": [vline]})).mark_rule(
                color="black", strokeDash=[1, 2], strokeWidth=1
            ).encode(x=alt.X("date:Q", scale=xs, axis=None))
        )
    if bracket is not None:
        dashes, caps, words, yb = bracket
        dd = pd.DataFrame({"a": [d[0] for d in dashes], "b": [d[1] for d in dashes], "y": [yb] * len(dashes)})
        layers.append(
            alt.Chart(dd).mark_rule(color="black", strokeDash=[4, 2], strokeWidth=1, clip=True).encode(
                x=alt.X("a:Q", scale=xs, axis=None), x2="b:Q", y=alt.Y("y:Q", scale=ys, axis=None)
            )
        )
        cd = pd.DataFrame({"a": caps, "y1": [yb - 0.35] * len(caps), "y2": [yb + 0.35] * len(caps)})
        layers.append(
            alt.Chart(cd).mark_rule(color="black", strokeWidth=1).encode(
                x=alt.X("a:Q", scale=xs, axis=None), y=alt.Y("y1:Q", scale=ys, axis=None), y2="y2:Q"
            )
        )
        if words:
            wd = pd.DataFrame({"a": [w[0] for w in words], "t": [w[1] for w in words], "y": [yb] * len(words)})
            layers.append(
                alt.Chart(wd).mark_text(font="DejaVu Sans Mono", fontSize=8, fontWeight="bold",
                                        color="black", baseline="middle").encode(
                    x=alt.X("a:Q", scale=xs, axis=None), y=alt.Y("y:Q", scale=ys, axis=None), text="t:N"
                )
            )
    return alt.layer(*layers).resolve_axis(x="independent", y="independent").properties(
        width=width, height=height
    )


LW, RW, H = 257, 250, 66
l1 = panel(L1_BLACK, L1_CYAN, L1_RANGE, LEFT_OC_RANGE, 2, 0.1, 4, LW, H)
l2 = panel(L2_BLACK, L2_CYAN, L2_RANGE, LEFT_OC_RANGE, 2, 0.1, 4, LW, H, vline=L2_VLINE,
           bracket=(L2_DASHES, L2_CAPS, L2_WORDS, L2_BRACKET_OC))
l3 = panel(L3_BLACK, L3_CYAN, L3_RANGE, LEFT_OC_RANGE, 2, 0.1, 4, LW, H, date_title=True)
r1 = panel(R1_BLACK, R1_CYAN, R1_RANGE, RIGHT_OC_RANGE, 5, 0.05, 2, RW, H,
           bracket=(R1_DASHES, R1_CAPS, [], R1_BRACKET_OC))
r2 = panel(R2_BLACK, R2_CYAN, R2_RANGE, RIGHT_OC_RANGE, 5, 0.05, 2, RW, H, vline=R2_VLINE,
           bracket=(R2_DASHES, R2_CAPS, R2_WORDS, R2_BRACKET_OC))
r3 = panel(R3_BLACK, R3_CYAN, R3_RANGE, RIGHT_OC_RANGE, 5, 0.05, 2, RW, H, date_title=True)

chart = alt.vconcat(
    alt.hconcat(l1, r1, spacing=35),
    alt.hconcat(l2, r2, spacing=35),
    alt.hconcat(l3, r3, spacing=35),
    spacing=10,
).properties(padding=0, background="white").configure_view(
    stroke="black", strokeWidth=1
).configure_axis(
    labelFont=FONT, labelFontSize=8, labelFontWeight="bold", labelColor="black",
    titleFont=FONT, titleFontSize=8, titleFontWeight="bold", titleColor="black",
    tickColor="black", tickWidth=1,
)

chart.save("out.html", embed_options={"renderer": "svg", "actions": False})
